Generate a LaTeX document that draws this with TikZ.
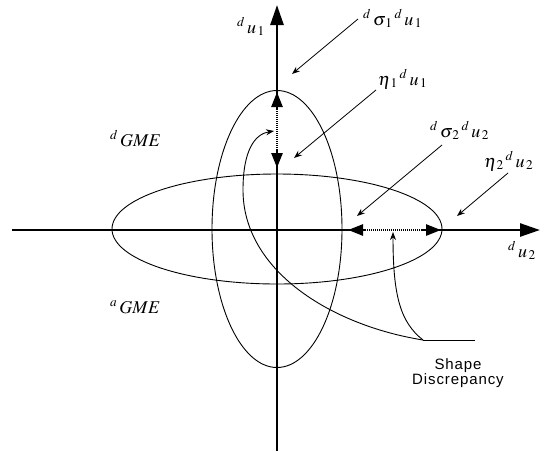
\documentclass[tikz,border=0pt]{standalone}
\usepackage[no-math]{fontspec}
\usepackage{mathptmx}
\newfontfamily\sdfont{Liberation Sans}[LetterSpace=6]
\usetikzlibrary{arrows.meta}
\tikzset{
  axisline/.style={line width=2.6pt,-{Triangle[length=20pt,width=13pt]}},
  thinline/.style={line width=0.9pt},
  pointer/.style={line width=0.8pt,-{Stealth[length=8pt,width=6pt]}},
  innerarrow/.style={line width=2.6pt,{Triangle[length=15pt,width=11pt]}-{Triangle[length=15pt,width=11pt]}},
  mlabel/.style={inner sep=0pt,anchor=base west,font=\fontsize{18}{21}\selectfont},
  sdlabel/.style={inner sep=0pt,align=center,font=\fontsize{15}{17}\sdfont}
}
\begin{document}
\begin{tikzpicture}[x=1pt,y=-1pt]
\useasboundingbox (0,0) rectangle (546,451);
% axes
\coordinate (vbot) at (277,451);
\coordinate (vtop) at (277,5);
\coordinate (hleft) at (12,230);
\coordinate (hright) at (540,230);
\coordinate (O) at (277,229);
% ellipses
\draw[thinline] (O) ellipse [x radius=65, y radius=138.5];
\draw[thinline] (O) ellipse [x radius=165, y radius=55];
\draw[axisline] (vbot) -- (vtop);
\draw[axisline] (hleft) -- (hright);
% inner double arrows
\coordinate (v1) at (277,92);
\coordinate (v2) at (277,168);
\coordinate (h1) at (348,230);
\coordinate (h2) at (441,230);
\draw[innerarrow] (v2) -- (v1);
\draw[innerarrow] (h1) -- (h2);
\draw[line width=1.2pt,white,dash pattern=on 0.5pt off 1.5pt] (277,110) -- (277,150);
\draw[line width=1.2pt,white,dash pattern=on 0.5pt off 1.5pt] (366,230) -- (422,230);
% labels
\node[mlabel] (lu1) at (237,33) {$^{d}\,u_{\,1}$};
\node[mlabel] (ls1) at (363,25) {$^{d}\,\sigma_{\,1}\,{}^{d}\,u_{\,1}$};
\node[mlabel] (le1) at (378,85) {$\eta_{\,1}\,{}^{d}\,u_{\,1}$};
\node[mlabel] (ls2) at (430,137) {$^{d}\,\sigma_{\,2}\,{}^{d}\,u_{\,2}$};
\node[mlabel] (le2) at (484,167) {$\eta_{\,2}\,{}^{d}\,u_{\,2}$};
\node[mlabel] (lu2) at (508,257) {$^{d}\,u_{\,2}$};
\node[mlabel] (dgme) at (110,146) {$^{d}\,GME$};
\node[mlabel] (agme) at (110,313) {$^{a}\,GME$};
\node[sdlabel] (sd) at (458,373) {Shape\\[-2pt]Discrepancy};
% pointer arrows
\coordinate (p1s) at (358,19);  \coordinate (p1e) at (292,74);
\coordinate (p2s) at (376,90);  \coordinate (p2e) at (294,158);
\coordinate (p3s) at (442,145); \coordinate (p3e) at (357,216);
\coordinate (p4s) at (508,173); \coordinate (p4e) at (457,216);
\draw[pointer] (p1s) -- (p1e);
\draw[pointer] (p2s) -- (p2e);
\draw[pointer] (p3s) -- (p3e);
\draw[pointer] (p4s) -- (p4e);
% shape discrepancy curves
\coordinate (j) at (423,340);
\coordinate (jend) at (475,340);
\coordinate (c1mid) at (243,190);
\coordinate (c1tip) at (274,131);
\coordinate (c2tip) at (393,232);
\draw[thinline] (j) -- (jend);
\draw[thinline,-{Stealth[length=8pt,width=6pt]}] (j) .. controls (330,325) and (243,270) .. (c1mid) .. controls (243,150) and (255,134) .. (c1tip);
\draw[thinline,-{Stealth[length=8pt,width=6pt]}] (j) .. controls (400,322) and (393,295) .. (c2tip);
\end{tikzpicture}
\end{document}
